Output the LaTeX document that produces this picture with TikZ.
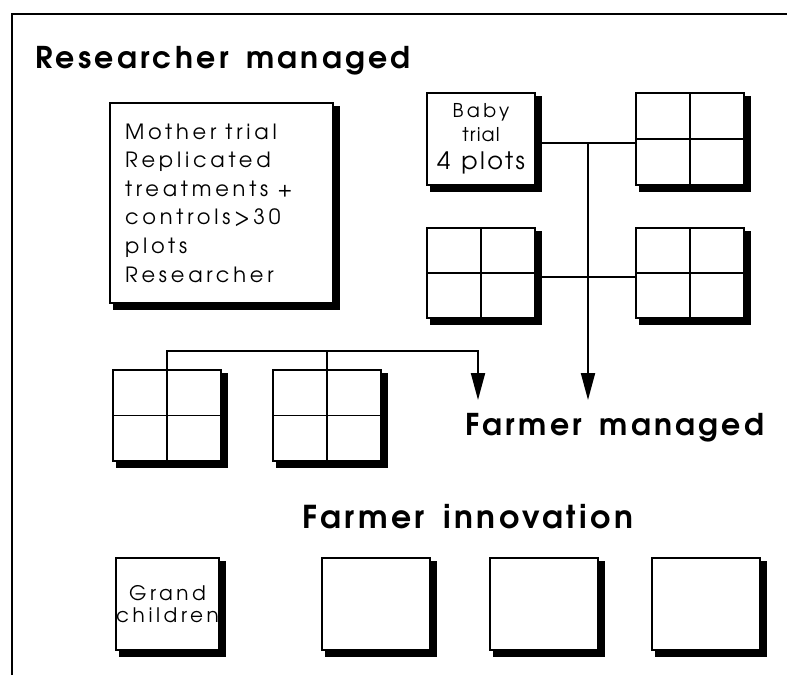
\documentclass[tikz,border=0pt]{standalone}
\usepackage{fontspec}
\setmainfont{TeX Gyre Adventor}
\newfontfamily\bodyfont{TeX Gyre Adventor}[LetterSpace=18]
\newfontfamily\tightfont{TeX Gyre Adventor}[LetterSpace=6]
\newfontfamily\midfont{TeX Gyre Adventor}[LetterSpace=10]
\newfontfamily\titlefont{TeX Gyre Adventor}[LetterSpace=11,WordSpace=1.5]
\newcommand{\wgap}{\hspace{9pt}}
\usetikzlibrary{arrows.meta,calc,backgrounds}
\tikzset{
  box/.style={draw, line width=2pt, fill=white, minimum width=108pt, minimum height=92pt,
    inner sep=0pt},
  grid/.style={box, path picture={\draw[line width=1.3pt]
      (path picture bounding box.north) -- (path picture bounding box.south)
      (path picture bounding box.west) -- (path picture bounding box.east);}},
  shadowbox/.style={fill=black},
  conn/.style={line width=2pt, line join=miter},
  arr/.style={conn, -{Triangle[length=27pt,width=14pt]}},
  title/.style={font=\titlefont\bfseries\fontsize{30}{32}\selectfont, anchor=base west, inner sep=0pt},
  body/.style={font=\bodyfont\fontsize{21}{28.6}\selectfont},
}
\begin{document}
\begin{tikzpicture}[x=1pt,y=-1pt]
\useasboundingbox (0,0) rectangle (787,675);
\draw[line width=2pt] (12,675) -- (12,14) -- (787,14);

\node[title] (t1) at (35,68) {Researcher managed};
\node[title] (t2) at (465,435) {Farmer managed};
\node[title, font=\titlefont\bfseries\fontsize{31.5}{32}\selectfont] (t3) at (302,528) {Farmer innovation};

\node[box, body, minimum width=223pt, minimum height=200pt, text width=193pt, align=left]
  (mother) at (221.5,203) {Mother\wgap trial\\Replicated\\treatments\wgap+\\controls>30\\plots\\Researcher};

\node[box, align=center, font=\bodyfont\fontsize{19}{24}\selectfont] (baby) at (481,139)
  {Baby\\{\tightfont\fontsize{19}{24}\selectfont trial}\\[4pt]{\midfont\fontsize{24}{28}\selectfont 4\hspace{11pt}plots}};
\node[grid] (g1) at (690,139) {};
\node[grid, minimum height=90pt] (g2) at (481,273) {};
\node[grid, minimum height=90pt] (g3) at (690,273) {};
\node[grid, minimum height=91pt] (g4) at (167,415.5) {};
\node[grid, minimum height=91pt] (g5) at (327,415.5) {};

\node[box, minimum width=101pt, align=center, font=\bodyfont\fontsize{20}{22}\selectfont]
  (gc) at (167.5,604) {Grand\\children};
\node[box] (e1) at (376,604) {};
\node[box] (e2) at (544,604) {};
\node[box] (e3) at (706,604) {};

\begin{scope}[on background layer]
  \foreach \n in {mother,baby,g1,g2,g3,g4,g5,gc,e1,e2,e3}
    \fill[shadowbox] ([xshift=4pt,yshift=-4pt]\n.north west) rectangle ([xshift=6pt,yshift=-6pt]\n.south east);
\end{scope}

\coordinate (j1) at (588,143);
\coordinate (tip1) at (588,400);
\coordinate (h) at (478,351);
\coordinate (tip2) at (478,400);

\draw[conn] ([yshift=-4pt]baby.east) -- ([yshift=-4pt]g1.west);
\draw[conn] ([yshift=-4pt]g2.east) -- ([yshift=-4pt]g3.west);
\draw[arr] (j1) -- (tip1);
\draw[arr] (g4.north) |- (h) -- (tip2);
\draw[conn] (g5.north) -- (g5.north |- h);
\end{tikzpicture}
\end{document}
